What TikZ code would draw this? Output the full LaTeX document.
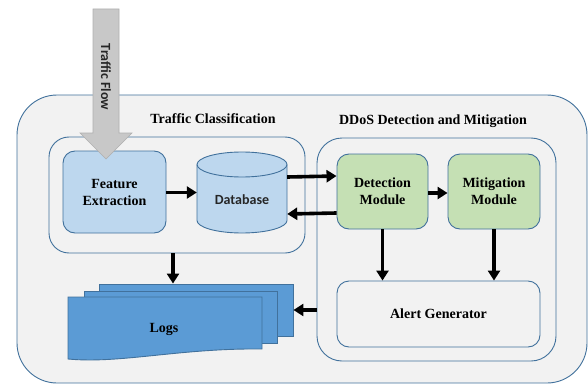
\documentclass[tikz,border=0pt]{standalone}
\usepackage{fontspec}
\setmainfont{Liberation Serif}
\newfontfamily\labelsans{Carlito}
\usetikzlibrary{arrows.meta,calc}

\definecolor{edgeblue}{RGB}{65,113,156}
\definecolor{panelgray}{RGB}{242,242,242}
\definecolor{lightblue}{RGB}{189,215,238}
\definecolor{lightgreen}{RGB}{197,224,180}
\definecolor{logblue}{RGB}{91,155,213}
\definecolor{flowgray}{RGB}{200,200,200}
\definecolor{flowedge}{RGB}{175,175,175}

\tikzset{
  panel/.style={draw=edgeblue, fill=panelgray, line width=0.9pt, rounded corners=#1},
  unit/.style={draw=edgeblue, line width=0.9pt, rounded corners=12pt,
    inner sep=0pt, align=center, font=\fontsize{14}{17}\selectfont\bfseries},
  logpage/.style={draw=edgeblue, fill=logblue, line width=0.9pt},
  title/.style={font=\fontsize{14}{16}\selectfont\bfseries, inner sep=0pt},
  arr/.style={line width=3.6pt, -{Triangle[length=10pt,width=12pt]}},
}

\begin{document}
\begin{tikzpicture}[x=1pt,y=-1pt]
\useasboundingbox (0,0) rectangle (588,385);

% outer container and the two stage panels
\node[panel=40pt, minimum width=570pt, minimum height=288pt] (outer) at (302,239) {};
\node[panel=20pt, minimum width=256pt, minimum height=116pt] (lin) at (177,195) {};
\node[panel=25pt, minimum width=239pt, minimum height=223pt] (rin) at (436.5,249.5) {};

\node[title] (tc) at (213,119) {Traffic Classification};
\node[title] (dm) at (433,121) {DDoS Detection and Mitigation};

% traffic classification stage
\node[unit, fill=lightblue, minimum width=103pt, minimum height=82pt] (fe) at (114.5,192) {Feature\\Extraction};

% database cylinder
\node[minimum width=90pt, minimum height=81pt, inner sep=0pt] (db) at (242,192.5) {};
\fill[lightblue] (197,164.5) -- (197,220.5) arc[start angle=180, end angle=360, x radius=45, y radius=-12.5]
  -- (287,164.5) arc[start angle=0, end angle=180, x radius=45, y radius=-12.5] -- cycle;
\draw[edgeblue, line width=0.9pt] (197,164.5) -- (197,220.5)
  arc[start angle=180, end angle=360, x radius=45, y radius=-12.5] -- (287,164.5);
\draw[edgeblue, line width=0.9pt] (242,164.5) ellipse[x radius=45, y radius=12.5];
\node[font=\labelsans\fontsize{14}{16}\selectfont\bfseries, text=black!85] at (242,200) {Database};

% detection and mitigation stage
\node[unit, fill=lightgreen, minimum width=91pt, minimum height=75pt] (det) at (382.5,191.5) {Detection\\Module};
\node[unit, fill=lightgreen, minimum width=92pt, minimum height=75pt] (mit) at (494,191.5) {Mitigation\\Module};
\node[unit, fill=panelgray, minimum width=203pt, minimum height=66pt] (alert) at (438.5,314) {Alert Generator};

% stacked log pages
\node[logpage, minimum width=194pt, minimum height=52pt, inner sep=0pt] (lg1) at (196,310) {};
\node[logpage, minimum width=193pt, minimum height=52pt, inner sep=0pt] (lg2) at (180.5,317) {};
\node[minimum width=194pt, minimum height=57pt, inner sep=0pt] (lg3) at (165,325.5) {};
\draw[logpage] (68,297) -- (262,297) -- (262,349)
  .. controls (180,348) and (120,364) .. (68,359) -- cycle;
\node[font=\fontsize{14}{16}\selectfont\bfseries] at (164,329) {Logs};

% connectors
\draw[arr] (fe.east |- db.west) -- (db.west);
\draw[arr] ([yshift=15.5pt]db.east) -- ([yshift=15.5pt]det.west);
\draw[arr] ([yshift=-21.5pt]det.west) -- ([yshift=-21.5pt]db.east);
\draw[arr] ([yshift=-1.5pt]det.east) -- ([yshift=-1.5pt]mit.west);
\draw[arr] (det.south) -- (det.south |- alert.north);
\draw[arr] (mit.south) -- (mit.south |- alert.north);
\draw[arr] ([xshift=-4pt]lin.south) -- ([xshift=-4pt]lin.south |- lg1.north);
\draw[arr] ([yshift=-60.5pt]rin.west) -- ([yshift=-60.5pt]rin.west -| lg1.east);

% incoming traffic arrow
\draw[fill=flowgray, draw=flowedge, line width=0.6pt]
  (93,9) -- (119,9) -- (119,133) -- (132,133) -- (106,159) -- (80,133) -- (93,133) -- cycle;
\node[rotate=-90, font=\labelsans\fontsize{14}{16}\selectfont\bfseries, text=black!85] (flow) at (106,77) {Traffic Flow};
\end{tikzpicture}
\end{document}
